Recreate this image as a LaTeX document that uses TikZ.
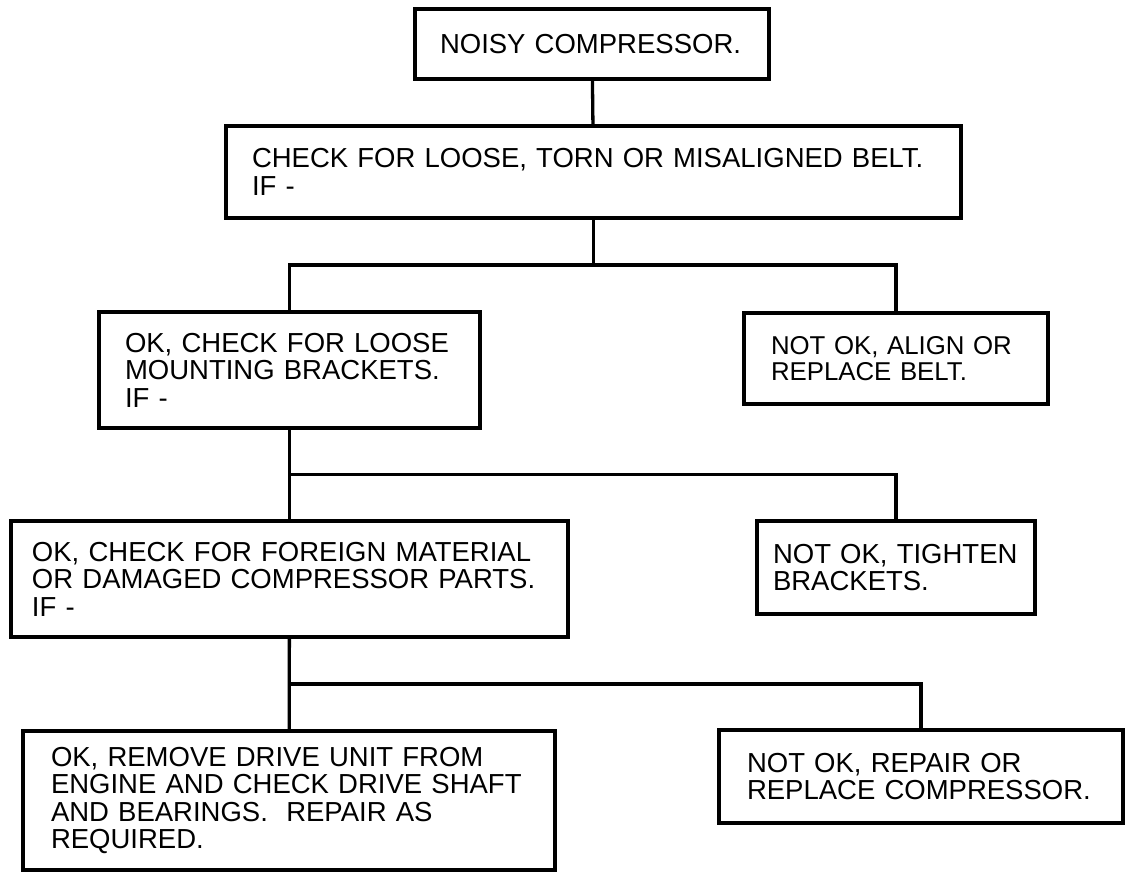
\documentclass[tikz,border=0pt]{standalone}
\usepackage{fontspec}
\setmainfont{Liberation Sans}
\usepackage{tikz}
\usetikzlibrary{positioning}

\begin{document}
\begin{tikzpicture}[x=0.5pt, y=-0.5pt,
    box/.style={draw, line width=2pt, align=left, inner ysep=0pt,
        font=\fontsize{13.75pt}{13.75pt}\selectfont},
    link/.style={line width=1.65pt}]
    \useasboundingbox (0,0) rectangle (1128,877);

    % Top of the tree
    \node[box, text width=152pt, inner xsep=12.5pt, minimum height=35pt]
        (noisy) at (592,44) {NOISY COMPRESSOR.};
    \node[box, text width=341.5pt, inner xsep=13pt, minimum height=46pt]
        (belt) at (593.5,172) {CHECK FOR LOOSE, TORN OR MISALIGNED BELT.\\ IF -};

    % Belt branches
    \node[box, text width=164.5pt, inner xsep=13pt, minimum height=58pt]
        (okbelt) at (289.5,370) {OK, CHECK FOR LOOSE\\ MOUNTING BRACKETS.\\ IF -};
    \node[box, text width=125pt, inner xsep=13.5pt, minimum height=45.5pt,
        font=\fontsize{12.9pt}{12.9pt}\selectfont]
        (notokbelt) at (896,358.5) {NOT OK, ALIGN OR\\ REPLACE BELT.};

    % Bracket branches
    \node[box, text width=257.5pt, inner xsep=10.5pt, minimum height=58pt]
        (okbrackets) at (289.5,579) {OK, CHECK FOR FOREIGN MATERIAL\\ OR DAMAGED COMPRESSOR PARTS.\\ IF -};
    \node[box, text width=123pt, inner xsep=8pt, minimum height=46.5pt]
        (notokbrackets) at (896,567.5) {NOT OK, TIGHTEN\\ BRACKETS.};

    % Compressor branches
    \node[box, text width=238pt, inner xsep=14pt, minimum height=69.5pt]
        (okparts) at (289,800.5) {OK, REMOVE DRIVE UNIT FROM\\ ENGINE AND CHECK DRIVE SHAFT\\ AND BEARINGS.\ \ REPAIR AS\\ REQUIRED.};
    \node[box, text width=174pt, inner xsep=14pt, minimum height=46.5pt]
        (notokparts) at (921,776.5) {NOT OK, REPAIR OR\\ REPLACE COMPRESSOR.};

    % Junctions
    \coordinate (j1) at (593.5,265);
    \coordinate (j2) at (289.5,474.5);
    \coordinate (j3) at (289.5,684);

    % Connectors
    \draw[link] (noisy) -- (belt);
    \draw[link] (belt) -- (j1);
    \draw[link] (okbelt.north) |- (j1) -| (notokbelt.north);
    \draw[link] (okbelt) -- (okbrackets);
    \draw[link] (j2) -| (notokbrackets.north);
    \draw[link] (okbrackets) -- (okparts);
    \draw[link] (j3) -| (notokparts.north);
\end{tikzpicture}
\end{document}
